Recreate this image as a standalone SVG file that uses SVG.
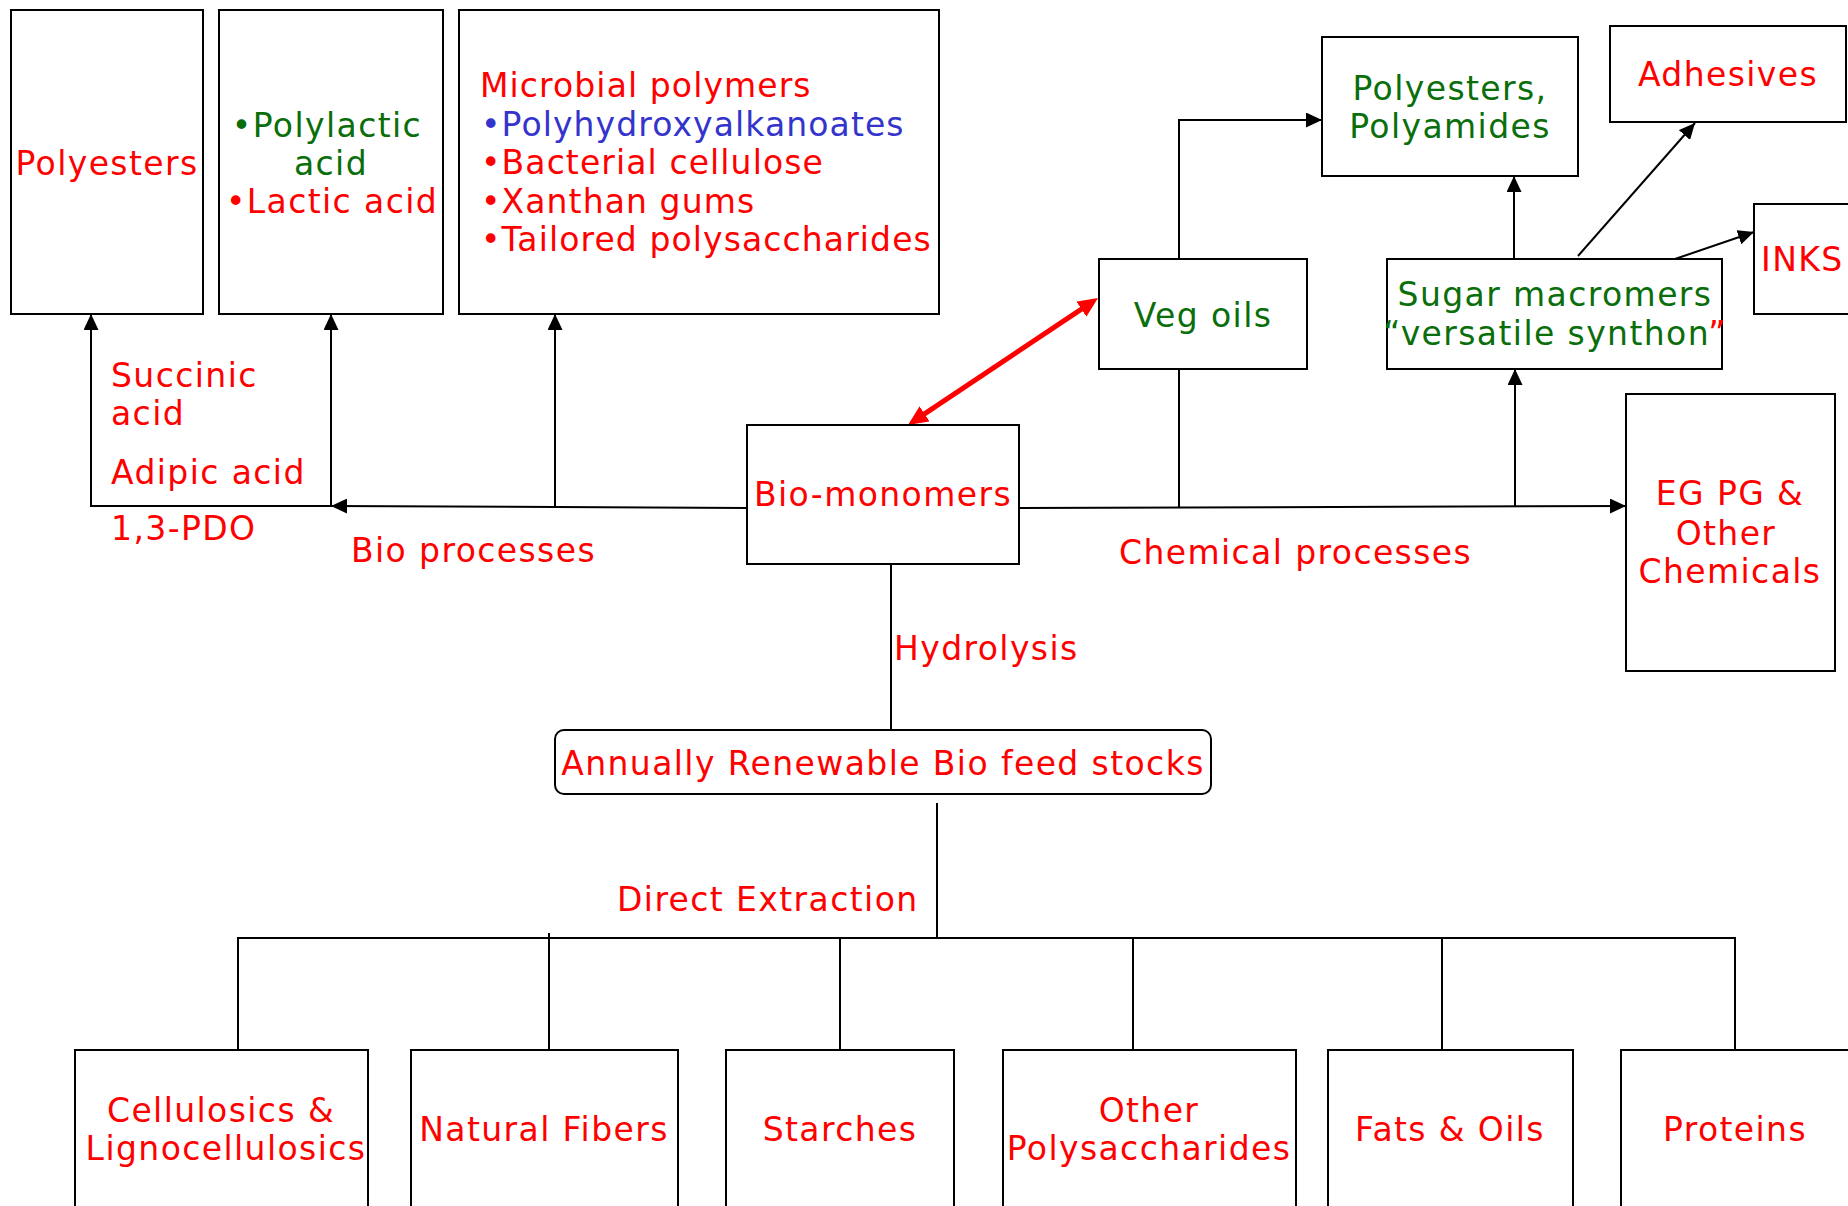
<svg xmlns="http://www.w3.org/2000/svg" width="1848" height="1206" viewBox="0 0 1848 1206">
<style>
  .box { fill: #fff; stroke: #000; stroke-width: 2; }
  text { font-family: "DejaVu Sans", "Liberation Sans", sans-serif; font-size: 33px; letter-spacing: 1.4px; }
  #microbial text { letter-spacing: 1.1px; }
  .r { fill: #ff0000; }
  .g { fill: #0a6e0a; }
  .b { fill: #3434cc; }
  .m { text-anchor: middle; }
  .ln { fill: none; stroke: #000; stroke-width: 2; }
  .arr { marker-end: url(#ah); }
</style>
<defs>
  <marker id="ah" markerUnits="userSpaceOnUse" markerWidth="16" markerHeight="15" refX="16" refY="7.5" orient="auto">
    <path d="M0,0 L16,7.5 L0,15 z" fill="#000"/>
  </marker>
  <marker id="rh" markerUnits="userSpaceOnUse" markerWidth="20" markerHeight="18" refX="10" refY="9" orient="auto-start-reverse">
    <path d="M0,0 L20,9 L0,18 z" fill="#ff0000"/>
  </marker>
</defs>
<rect width="1848" height="1206" fill="#fff"/>

<g id="connectors">
  <line class="ln arr" x1="91" y1="507" x2="91" y2="314"/>
  <line class="ln" x1="91" y1="506" x2="331" y2="506"/>
  <line class="ln arr" x1="331" y1="506" x2="331" y2="314"/>
  <line class="ln arr" x1="747" y1="508" x2="331" y2="506"/>
  <line class="ln arr" x1="555" y1="508" x2="555" y2="314"/>
  <line class="ln arr" x1="1019" y1="508" x2="1626" y2="506"/>
  <line class="ln" x1="1179" y1="369" x2="1179" y2="508"/>
  <line class="ln arr" x1="1515" y1="507" x2="1515" y2="369"/>
  <polyline class="ln arr" points="1179,259 1179,120 1322,120"/>
  <line class="ln arr" x1="1514" y1="259" x2="1514" y2="176"/>
  <line class="ln arr" x1="1578" y1="256" x2="1695" y2="123"/>
  <line class="ln arr" x1="1675" y1="259" x2="1754" y2="232"/>
  <line x1="916.3" y1="419.4" x2="1089.7" y2="303.6" stroke="#ff0000" stroke-width="5" marker-start="url(#rh)" marker-end="url(#rh)"/>
  <line class="ln" x1="891" y1="564" x2="891" y2="730"/>
  <line class="ln" x1="937" y1="803" x2="937" y2="938"/>
  <line class="ln" x1="237" y1="938" x2="1736" y2="938"/>
  <line class="ln" x1="238" y1="938" x2="238" y2="1050"/>
  <line class="ln" x1="549" y1="933" x2="549" y2="1050"/>
  <line class="ln" x1="840" y1="938" x2="840" y2="1050"/>
  <line class="ln" x1="1133" y1="938" x2="1133" y2="1050"/>
  <line class="ln" x1="1442" y1="938" x2="1442" y2="1050"/>
  <line class="ln" x1="1735" y1="938" x2="1735" y2="1050"/>
</g>

<g id="polyesters">
  <rect class="box" x="11" y="10" width="192" height="304"/>
  <text class="r m" x="107" y="175">Polyesters</text>
</g>
<g id="polylactic">
  <rect class="box" x="219" y="10" width="224" height="304"/>
  <text class="g m" x="327" y="137">•Polylactic</text>
  <text class="g m" x="331" y="175">acid</text>
  <text class="r m" x="332" y="213">•Lactic acid</text>
</g>
<g id="microbial">
  <rect class="box" x="459" y="10" width="480" height="304"/>
  <text class="r" x="480" y="97">Microbial polymers</text>
  <text class="b" x="481" y="136">•Polyhydroxyalkanoates</text>
  <text class="r" x="481" y="174">•Bacterial cellulose</text>
  <text class="r" x="481" y="213">•Xanthan gums</text>
  <text class="r" x="481" y="251">•Tailored polysaccharides</text>
</g>
<g id="polyesters-polyamides">
  <rect class="box" x="1322" y="37" width="256" height="139"/>
  <text class="g m" x="1450" y="100">Polyesters,</text>
  <text class="g m" x="1450" y="138">Polyamides</text>
</g>
<g id="adhesives">
  <rect class="box" x="1610" y="26" width="236" height="96"/>
  <text class="r m" x="1728" y="86">Adhesives</text>
</g>
<g id="inks">
  <rect class="box" x="1754" y="204" width="110" height="110"/>
  <text class="r" x="1761" y="271">INKS</text>
</g>
<g id="veg-oils">
  <rect class="box" x="1099" y="259" width="208" height="110"/>
  <text class="g m" x="1203" y="327">Veg oils</text>
</g>
<g id="sugar-macromers">
  <rect class="box" x="1387" y="259" width="335" height="110"/>
  <text class="g m" x="1555" y="306">Sugar macromers</text>
  <text class="m" x="1555" y="345"><tspan class="g">“versatile synthon</tspan><tspan class="r">”</tspan></text>
</g>
<g id="bio-monomers">
  <rect class="box" x="747" y="425" width="272" height="139"/>
  <text class="r m" x="883" y="506">Bio-monomers</text>
</g>
<g id="eg-pg">
  <rect class="box" x="1626" y="394" width="209" height="277"/>
  <text class="r m" x="1730" y="505">EG PG &amp;</text>
  <text class="r m" x="1726" y="545">Other</text>
  <text class="r m" x="1730" y="583">Chemicals</text>
</g>
<g id="feedstocks">
  <rect class="box" x="555" y="730" width="656" height="64" rx="9"/>
  <text class="r m" x="883" y="775">Annually Renewable Bio feed stocks</text>
</g>
<g id="cellulosics">
  <rect class="box" x="75" y="1050" width="293" height="200"/>
  <text class="r m" x="221" y="1122">Cellulosics &amp;</text>
  <text class="r m" x="226" y="1160">Lignocellulosics</text>
</g>
<g id="natural-fibers">
  <rect class="box" x="411" y="1050" width="267" height="200"/>
  <text class="r m" x="544" y="1141">Natural Fibers</text>
</g>
<g id="starches">
  <rect class="box" x="726" y="1050" width="228" height="200"/>
  <text class="r m" x="840" y="1141">Starches</text>
</g>
<g id="other-polysaccharides">
  <rect class="box" x="1003" y="1050" width="293" height="200"/>
  <text class="r m" x="1149" y="1122">Other</text>
  <text class="r m" x="1149" y="1160">Polysaccharides</text>
</g>
<g id="fats-oils">
  <rect class="box" x="1328" y="1050" width="245" height="200"/>
  <text class="r m" x="1450" y="1141">Fats &amp; Oils</text>
</g>
<g id="proteins">
  <rect class="box" x="1621" y="1050" width="240" height="200"/>
  <text class="r m" x="1735" y="1141">Proteins</text>
</g>

<g id="labels">
  <text class="r" x="111" y="387">Succinic</text>
  <text class="r" x="111" y="425">acid</text>
  <text class="r" x="111" y="484">Adipic acid</text>
  <text class="r" x="111" y="540">1,3-PDO</text>
  <text class="r" x="351" y="562">Bio processes</text>
  <text class="r" x="1119" y="564">Chemical processes</text>
  <text class="r" x="894" y="660">Hydrolysis</text>
  <text class="r" x="617" y="911">Direct Extraction</text>
</g>
</svg>
